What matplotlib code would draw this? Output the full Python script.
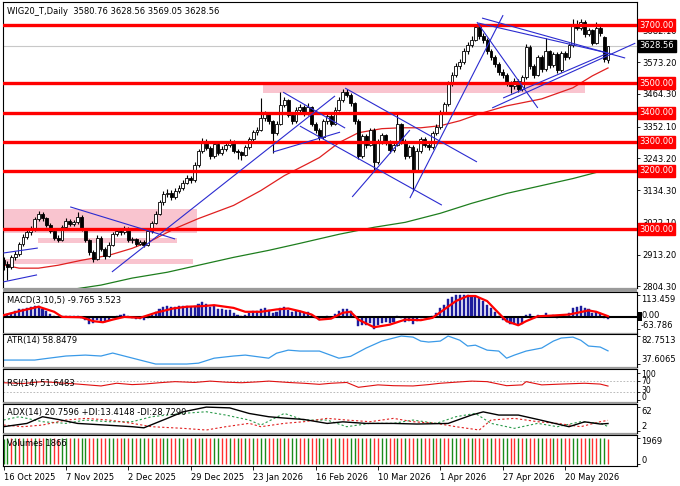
import matplotlib
matplotlib.use("Agg")
import matplotlib.pyplot as plt
import matplotlib.transforms as mtrans
from matplotlib.patches import Rectangle
import numpy as np

plt.rcParams['font.family'] = ['DejaVu Sans']
FS = 6.0

# ---------------- data ----------------
date_labels = ["16 Oct 2025", "7 Nov 2025", "2 Dec 2025", "29 Dec 2025", "23 Jan 2026",
               "16 Feb 2026", "10 Mar 2026", "1 Apr 2026", "27 Apr 2026", "20 May 2026"]
date_idx = [0, 16, 32, 48, 64, 80, 96, 112, 128, 144]

opens = [2895,2880,2872,2905,2915,2950,2975,2990,3000,3035,
         3052,3038,3015,2995,2972,2965,3008,3030,3018,3025,
         3042,3000,2962,2922,2900,2972,2932,2910,2948,2985,
         2996,2990,3002,2962,2966,2950,2957,2948,2994,3022,
         3052,3092,3120,3126,3110,3132,3142,3160,3176,3168,
         3222,3268,3302,3280,3250,3292,3262,3276,3290,3300,
         3268,3264,3256,3282,3310,3332,3342,3382,3396,3370,
         3330,3362,3426,3442,3392,3370,3410,3420,3398,3418,
         3362,3340,3316,3370,3390,3362,3410,3442,3472,3462,
         3432,3372,3252,3320,3290,3340,3232,3300,3322,3300,
         3272,3290,3360,3302,3252,3282,3200,3270,3310,3290,
         3282,3330,3352,3402,3428,3500,3530,3560,3572,3610,
         3632,3650,3692,3662,3650,3612,3590,3566,3540,3530,
         3502,3490,3510,3480,3522,3625,3560,3530,3590,3550,
         3610,3562,3600,3545,3605,3590,3632,3705,3690,3712,
         3670,3682,3640,3690,3660,3580.76]
closes = [2880,2872,2905,2915,2950,2975,2990,3000,3035,3052,
          3038,3015,2995,2972,2965,3008,3030,3018,3025,3042,
          3000,2962,2922,2900,2972,2932,2910,2948,2985,2996,
          2990,3002,2962,2966,2950,2957,2948,2994,3022,3052,
          3092,3120,3126,3110,3132,3142,3160,3176,3168,3222,
          3268,3302,3280,3250,3292,3262,3276,3290,3300,3268,
          3264,3256,3282,3310,3332,3342,3382,3396,3370,3330,
          3362,3426,3442,3392,3370,3410,3420,3398,3418,3362,
          3340,3316,3370,3390,3362,3410,3442,3472,3462,3432,
          3372,3252,3320,3290,3340,3232,3300,3322,3300,3272,
          3290,3360,3302,3252,3282,3200,3270,3310,3290,3282,
          3330,3352,3402,3428,3500,3530,3560,3572,3610,3632,
          3650,3692,3662,3650,3612,3590,3566,3540,3530,3502,
          3490,3510,3480,3522,3625,3560,3530,3590,3550,3610,
          3562,3600,3545,3605,3590,3632,3705,3690,3712,3670,
          3682,3640,3690,3672,3582,3628.56]
highs = [2905,2890,2912,2925,2958,2984,3000,3012,3044,3062,
         3060,3044,3022,3000,2980,3015,3040,3036,3032,3060,
         3048,3005,2968,2930,2980,2978,2938,2955,2992,3005,
         3002,3010,3008,2975,2972,2965,2962,3000,3030,3062,
         3100,3132,3138,3134,3140,3152,3168,3186,3184,3230,
         3276,3312,3308,3286,3300,3298,3285,3298,3310,3305,
         3275,3270,3290,3318,3340,3352,3450,3405,3402,3376,
         3370,3470,3455,3448,3398,3418,3430,3426,3432,3424,
         3368,3346,3378,3398,3396,3418,3452,3482,3480,3468,
         3438,3378,3328,3326,3348,3346,3308,3330,3328,3306,
         3298,3402,3366,3308,3290,3288,3278,3318,3316,3298,
         3338,3360,3410,3436,3510,3540,3570,3582,3620,3642,
         3662,3702,3698,3672,3656,3618,3596,3572,3548,3536,
         3510,3518,3516,3530,3636,3630,3566,3598,3596,3655,
         3616,3608,3606,3612,3612,3640,3722,3718,3722,3716,
         3690,3688,3712,3698,3664,3628.56]
lows = [2862,2825,2865,2896,2908,2944,2968,2982,2995,3028,
        3030,3008,2988,2962,2955,2960,3000,3010,3012,3020,
        2994,2955,2912,2888,2895,2925,2898,2905,2942,2978,
        2982,2984,2955,2952,2944,2945,2940,2944,2988,3018,
        3048,3085,3112,3100,3104,3126,3136,3154,3158,3162,
        3215,3260,3272,3240,3244,3254,3255,3268,3282,3260,
        3240,3238,3250,3276,3304,3322,3336,3372,3360,3262,
        3324,3356,3418,3384,3360,3364,3402,3390,3392,3354,
        3330,3305,3310,3362,3354,3356,3404,3436,3452,3424,
        3362,3240,3244,3280,3284,3195,3225,3292,3290,3262,
        3264,3284,3294,3242,3246,3133,3195,3262,3282,3272,
        3276,3322,3345,3395,3422,3492,3522,3550,3566,3602,
        3624,3644,3652,3640,3600,3580,3556,3530,3520,3490,
        3468,3482,3470,3474,3516,3550,3520,3524,3540,3544,
        3552,3555,3535,3538,3580,3585,3626,3682,3684,3660,
        3662,3632,3634,3664,3575,3569.05]

# moving averages (read at sparse bars)
ma_red_idx = [0,4,9,14,20,27,33,38,44,50,59,66,72,78,81,86,91,97,102,107,112,117,122,129,138,146,151,155]
ma_red_val = [2878,2867,2867,2877,2894,2911,2935,2962,3003,3037,3082,3133,3184,3225,3246,3297,3331,3345,
              3348,3348,3355,3372,3396,3423,3447,3485,3526,3553]
ma_green_idx = [18,25,33,42,50,59,68,76,86,95,103,112,120,129,138,146,152,155]
ma_green_val = [2795,2809,2833,2853,2877,2904,2928,2952,2983,3007,3024,3055,3089,3123,3150,3174,3195,3201]

levels = [3700, 3500, 3400, 3300, 3200, 3000]
last_price = 3628.56
price_ticks = [3682.10, 3573.20, 3464.30, 3352.10, 3243.20, 3134.30, 3022.10, 2913.20, 2804.30]

# pink zones: bar start, bar end, price low, price high
zone_i0 = [-0.4, 8.8, -0.1, 66.5]
zone_i1 = [49.6, 44.5, 48.6, 149.0]
zone_p0 = [2988, 2954, 2880, 3468]
zone_p1 = [3068, 2972, 2897, 3499]

# trend lines: (bar, price) -> (bar, price)
tl_i0 = [0.0, 0.0, 17.1, 27.8, 71.7, 69.1, 76.0, 87.6, 89.4, 104.2, 122.7, 121.4, 121.7, 125.3, 128.1]
tl_p0 = [2820, 2919, 3077, 2854, 3470, 3265, 3354, 3484, 3111, 3107, 3724, 3710, 3707, 3416, 3450]
tl_i1 = [8.6, 8.8, 44.0, 85.0, 87.6, 86.3, 112.4, 121.4, 104.2, 128.1, 159.4, 137.0, 155.0, 162.0, 155.0]
tl_p1 = [2844, 2936, 2967, 3457, 3347, 3333, 3083, 3231, 3340, 3734, 3587, 3416, 3604, 3638, 3604]

macd_hist = [8,14,18,30,38,42,48,52,56,55,
             42,30,16,4,-3,2,6,5,3,6,
             -4,-18,-36,-30,-16,-22,-26,-18,-6,4,
             10,14,4,-4,-10,-12,-14,-4,12,26,
             42,50,54,50,52,54,56,58,52,58,
             66,77,66,50,54,42,38,36,34,22,
             12,6,12,22,30,32,40,44,36,20,
             24,44,52,36,24,28,30,22,24,8,
             -6,-18,-4,6,0,14,30,42,40,28,
             4,-48,-40,-44,-30,-63,-44,-30,-28,-30,
             -24,6,-4,-26,-20,-38,-20,-6,-8,-12,
             6,18,46,62,92,104,110,112,113,110,
             106,108,96,82,62,44,24,4,-14,-28,
             -38,-36,-44,-34,10,14,-4,8,-2,20,
             2,8,-6,8,4,20,46,52,58,44,
             42,22,26,18,-6,-9.765]
sig_idx = [0,4,9,13,15,20,23,25.5,28,31,35,39,43.5,47,51,54,59,62,66,70,73,76,79,81,84,87,89,91,95,99,
           103,107,110,113,116,119,121,124,126.5,129,132,134,137,141,145,150,152,155]
sig_val = [8.6,29,52,26,0,-2,-22,-27.5,-14,0,-5,21,43,52,55,60,46,26,26,38,43,29,12,-14,-9,21,26,-14,
           -53,-40,-14,-17,-5,38,81,107,107,81,29,-22,-43,-22,3,7,12,33,26,3.523]

atr_idx = [0,8,10,16,21,25,28,35,39,47,50,54,59,62,68,70,73,76,81,86,89,93,97,102,105,107,109,112,114,
           117,119,121,124,127,129,131,134,138,141,143,146,148,150,153,155]
atr_val = [44,44,45.7,50.5,52,50.5,55.3,44,37.6,37.6,39,47,50.5,52,47,55,60,58.5,58.5,47,50,63.4,74.6,
           82.7,81,74.6,73,74.6,82.7,76,66.6,68,60,58.5,47,52,58.5,63.4,74.6,79.5,81,76,66.6,65,58.85]

rsi_idx = [0,5,10,15,19,25,29,33,36,40,44,49,53,57,61,65,68,73,77,81,84,88,91,96,100,105,109,112,116,120,
           124,129,133,134,138,143,149,153,155]
rsi_val = [64,61,68,63,59,52,62,57,59,64,68,65,70,66,64,67,70,65,62,58,62,65,47,56,53,52,57,62,66,70,
           68,53,56,68,56,59,62,59,51.65]

adx_idx = [0,6,10,14,19,26,33,36,42,46,52,58,63,68,73,77,83,87,93,100,106,114,120,123,127,132,137,145,149,153,155]
adx_val = [12.8,21,37.8,31,21,17,12.8,10,33.7,50,62,60,46,37.8,33.7,31,21,25,21,21,19.5,21,42,50,42,42,31,
           12.8,25,19.5,20.76]
pdi_idx = [0,4,10,16,21,27,33,38,46,52,57,63,66,72,77,83,88,94,100,105,111,116,121,125,131,137,142,148,153,155]
pdi_val = [29.5,37.8,25.3,21.2,29.5,25.3,25.3,37.8,46.2,50.3,42,29.5,17,46.2,29.5,29.5,12.8,21.2,21.2,29.5,
           21.2,37.8,46.2,21.2,8.7,21.2,12.8,25.3,21.2,13.41]
mdi_idx = [0,5,10,16,21,27,33,38,46,52,57,63,66,72,77,83,88,94,100,105,111,116,122,125,131,137,142,148,153,155]
mdi_val = [17,12.8,17,29.5,33.7,29.5,21.2,12.8,8.7,4.5,12.8,21.2,12.8,21.2,25.3,33.7,29.5,25.3,33.7,25.3,
           21.2,12.8,4.5,29.5,33.7,25.3,21.2,12.8,25.3,28.73]

volumes = [1902,1930,1915,1944,1921,1950,1938,1926,1955,1941,
           1912,1933,1948,1920,1907,1936,1952,1929,1946,1918,
           1937,1960,1943,1925,1951,1934,1910,1939,1957,1940,
           1922,1945,1931,1953,1916,1938,1949,1927,1959,1942,
           1919,1935,1950,1932,1913,1944,1961,1936,1924,1947,
           1930,1956,1939,1917,1941,1958,1933,1921,1948,1937,
           1960,1926,1943,1929,1952,1911,1934,1957,1940,1923,
           1946,1931,1954,1918,1939,1962,1945,1928,1950,1936,
           1914,1942,1958,1930,1947,1925,1953,1938,1920,1944,
           1965,1933,1949,1927,1956,1940,1916,1943,1960,1935,
           1922,1948,1931,1955,1939,1913,1946,1962,1937,1928,
           1951,1934,1958,1941,1919,1945,1969,1932,1948,1926,
           1954,1938,1921,1947,1930,1957,1943,1915,1940,1961,
           1936,1924,1950,1933,1955,1929,1918,1944,1959,1937,
           1925,1949,1932,1956,1940,1921,1946,1963,1934,1927,
           1952,1938,1917,1943,1950,1866]

# ---------------- layout ----------------
W, H = 680, 486
fig = plt.figure(figsize=(W / 100, H / 100), dpi=100)
fig.patch.set_facecolor('white')
PXB = 3.9
X0 = 3.5
XL = ((3 - X0) / PXB, (637 - X0) / PXB)


def ftext(x, y, s, size=FS, **kw):
    fig.text(x / W, 1 - y / H, s, fontsize=size, va='center', ha='left', **kw)


def pane(top, bottom, ylim, ticks, labels=None, label_y=None, label_size=FS):
    ax = fig.add_axes([3 / W, 1 - bottom / H, 634 / W, (bottom - top) / H])
    ax.set_xlim(*XL)
    ax.set_ylim(*ylim)
    ax.set_xticks([])
    ax.yaxis.tick_right()
    ax.set_yticks(ticks)
    if label_y is None:
        ax.set_yticklabels(labels)
    else:
        ax.set_yticklabels([])
        for s, yy in zip(labels, label_y):
            ftext(641, yy, s, size=label_size)
    ax.tick_params(axis='y', length=2, width=0.6, labelsize=FS, pad=2, colors='black')
    for s in ax.spines.values():
        s.set_linewidth(0.8)
        s.set_color('black')
    return ax


# separators
for (t, b) in [(288, 291.5), (333, 334.5), (367, 368.5), (401.5, 403.5), (433, 435)]:
    fig.add_artist(Rectangle((3 / W, 1 - b / H), 634 / W, (b - t) / H, transform=fig.transFigure,
                             facecolor='#9a9a9a', edgecolor='none'))

# ---------------- main pane ----------------
ax = pane(2, 288, (2799, 3779), price_ticks, ["%.2f" % v for v in price_ticks])
blend = mtrans.blended_transform_factory(ax.transAxes, ax.transData)

for a0, a1, p0, p1 in zip(zone_i0, zone_i1, zone_p0, zone_p1):
    ax.add_patch(Rectangle((a0, p0), a1 - a0, p1 - p0, facecolor='#f9c4cf', edgecolor='none', zorder=0.5))

ax.axhline(last_price, color='#c8c8c8', lw=0.8, zorder=1)
ax.plot(ma_green_idx, ma_green_val, color='#1e7e1e', lw=0.9, zorder=2)
ax.plot(ma_red_idx, ma_red_val, color='#e02020', lw=0.9, zorder=2)

idx = np.arange(len(closes))
o = np.array(opens, float)
c = np.array(closes, float)
ax.vlines(idx, lows, highs, color='black', lw=0.8, zorder=3)
body_lo = np.minimum(o, c)
body_h = np.maximum(np.abs(c - o), 2.0)
fc = ['white' if cc >= oo else 'black' for oo, cc in zip(o, c)]
ax.bar(idx, body_h, bottom=body_lo, width=0.72, color=fc, edgecolor='black', linewidth=0.6, zorder=4)

for lv in levels:
    ax.axhline(lv, color='#ff0000', lw=2.4, zorder=5)

for a0, p0, a1, p1 in zip(tl_i0, tl_p0, tl_i1, tl_p1):
    ax.plot([a0, a1], [p0, p1], color='#2b2bd0', lw=0.8, zorder=6, solid_capstyle='butt')

for lv in levels:
    ax.text(1.004, lv, "%.2f" % lv, transform=blend, color='white', fontsize=FS, va='center', ha='left',
            zorder=10, clip_on=False,
            bbox=dict(boxstyle='square,pad=0.18', facecolor='#ff0000', edgecolor='#ff0000'))
ax.text(1.004, last_price, "%.2f" % last_price, transform=blend, color='white', fontsize=FS, va='center',
        ha='left', zorder=10, clip_on=False,
        bbox=dict(boxstyle='square,pad=0.18', facecolor='black', edgecolor='black'))

ftext(7, 11, "WIG20_T,Daily  3580.76 3628.56 3569.05 3628.56")

# ---------------- MACD ----------------
ax2 = pane(291.5, 333, (-82.6, 130), [113.459, 0, -63.786], ["113.459", "0.00", "-63.786"],
           [299, 315.5, 325.5])
ax2.bar(np.arange(len(macd_hist)), macd_hist, width=0.55, color='#1c1c9c', edgecolor='#1c1c9c',
        linewidth=0.3, zorder=2)
ax2.axhline(0, color='black', lw=1.5, zorder=3)
ax2.plot(sig_idx, sig_val, color='#ff0000', lw=1.6, zorder=4)
fig.add_artist(Rectangle((637.5 / W, 1 - 321 / H), 4.5 / W, 9 / H, transform=fig.transFigure,
                         facecolor='black', edgecolor='none'))
ftext(7, 300, "MACD(3,10,5) -9.765 3.523")

# ---------------- ATR ----------------
ax3 = pane(334.5, 367, (32.8, 85.2), [82.7513, 37.6065], ["82.7513", "37.6065"], [340, 360])
ax3.plot(atr_idx, atr_val, color='#3a9ae8', lw=0.9)
ftext(7, 341, "ATR(14) 58.8479")

# ---------------- RSI ----------------
ax4 = pane(368.5, 401.5, (-5.6, 116.7), [100, 70, 30, 0], ["100", "70", "30", "0"],
           [374.5, 381.5, 390.5, 397.5], label_size=5.6)
for lv in (70, 30):
    ax4.axhline(lv, color='#b0b0b0', lw=0.6, ls=(0, (2, 2)))
ax4.plot(rsi_idx, rsi_val, color='#e01010', lw=0.8)
ftext(7, 383, "RSI(14) 51.6483")

# ---------------- ADX ----------------
ax5 = pane(403.5, 433, (-3, 71), [62, 2], ["62", "2"], [411.5, 426.5])
ax5.plot(pdi_idx, pdi_val, color='#2a9a4a', lw=0.8, ls=(0, (2, 2)))
ax5.plot(mdi_idx, mdi_val, color='#e02020', lw=0.8, ls=(0, (2, 2)))
ax5.plot(adx_idx, adx_val, color='black', lw=1.0)
ftext(7, 412, "ADX(14) 20.7596 +DI:13.4148 -DI:28.7290")

# ---------------- Volumes ----------------
ax6 = pane(435, 466, (-150, 2170), [1969, 0], ["1969", "0"], [441.5, 460])
vcol = ['#1a8c1a' if (k == 0 or volumes[k] >= volumes[k - 1]) else '#ff3030' for k in range(len(volumes))]
ax6.vlines(np.arange(len(volumes)), 0, volumes, colors=vcol, lw=1.0)
ftext(7, 443, "Volumes 1866")
ax6.set_xticks(date_idx)
ax6.set_xticklabels(date_labels)
for lbl in ax6.get_xticklabels():
    lbl.set_ha('left')
ax6.tick_params(axis='x', length=3, width=0.6, labelsize=FS, pad=2)

fig.savefig("out.png", dpi=100, facecolor='white')
